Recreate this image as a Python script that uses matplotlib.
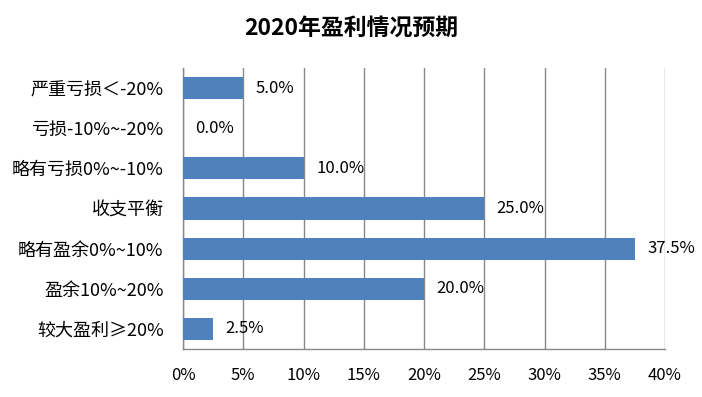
import matplotlib
matplotlib.use('Agg')
import matplotlib.pyplot as plt
import numpy as np

plt.rcParams['font.family'] = ['Noto Sans CJK SC', 'DejaVu Sans']

# data, top to bottom as shown
categories = ['严重亏损＜-20%', '亏损-10%~-20%', '略有亏损0%~-10%', '收支平衡',
              '略有盈余0%~10%', '盈余10%~20%', '较大盈利≥20%']
values = [5.0, 0.0, 10.0, 25.0, 37.5, 20.0, 2.5]
xticks = [0, 5, 10, 15, 20, 25, 30, 35, 40]
title = '2020年盈利情况预期'

fig = plt.figure(figsize=(7.02, 3.97), dpi=100)
ax = fig.add_axes([0.2607, 0.1209, 0.6866, 0.7078])

y = np.arange(len(categories))
ax.barh(y, values, height=0.55, color='#4F81BD', zorder=3)
ax.set_ylim(len(categories) - 0.5, -0.5)
ax.set_xlim(0, 40)

# value labels right of bars
for yi, v in zip(y, values):
    ax.annotate(f'{v:.1f}%', (v, yi), xytext=(9, 0), textcoords='offset points',
                va='center', ha='left', fontsize=12, color='black')

ax.set_yticks(y)
ax.set_yticklabels(categories, fontsize=13)
ax.set_xticks(xticks)
ax.set_xticklabels([f'{t}%' for t in xticks], fontsize=12)
ax.tick_params(axis='both', length=0)
ax.tick_params(axis='y', pad=14)
ax.tick_params(axis='x', pad=13)

ax.grid(axis='x', color='#888888', linewidth=1, zorder=0)
for side in ['top', 'right']:
    ax.spines[side].set_visible(False)
for side in ['left', 'bottom']:
    ax.spines[side].set_color('#888888')
    ax.spines[side].set_linewidth(1)

fig.text(0.5, 0.93, title, ha='center', va='center', fontsize=16.5, fontweight='bold')

fig.savefig('out.png', dpi=100, facecolor='white')
